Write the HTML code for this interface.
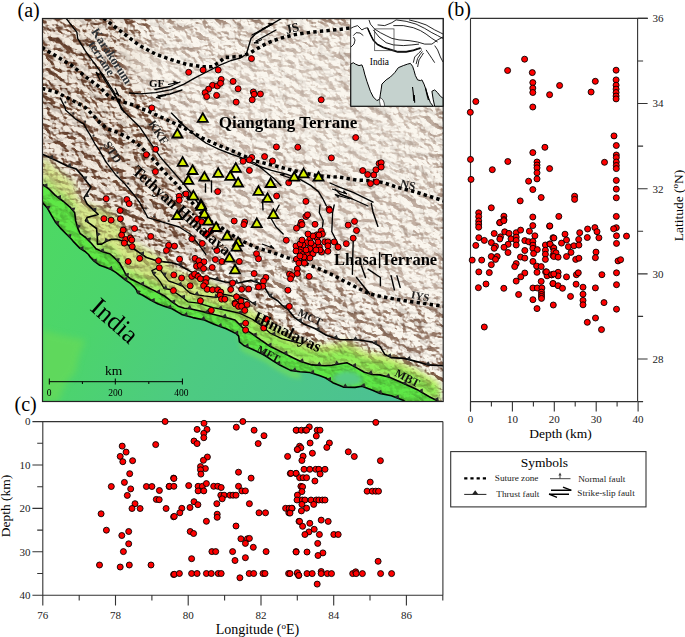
<!DOCTYPE html>
<html><head><meta charset="utf-8"><style>html,body{margin:0;padding:0;background:#fff;overflow:hidden}svg{display:block}</style></head><body>
<svg width="685" height="637" viewBox="0 0 685 637" font-family="Liberation Serif, serif">
<defs>
<clipPath id="mapclip"><rect x="42.5" y="18.5" width="400.7" height="383"/></clipPath>
<linearGradient id="gplain" x1="42" y1="200" x2="404" y2="402" gradientUnits="userSpaceOnUse">
 <stop offset="0" stop-color="#4dd962"/><stop offset="0.25" stop-color="#4cd46c"/><stop offset="0.5" stop-color="#4dcb80"/><stop offset="1" stop-color="#4cc094"/>
</linearGradient>
<linearGradient id="gband" x1="42" y1="0" x2="443" y2="0" gradientUnits="userSpaceOnUse">
 <stop offset="0" stop-color="#d8e690"/><stop offset="0.35" stop-color="#d4ea84"/><stop offset="0.6" stop-color="#ccee76"/><stop offset="1" stop-color="#caee72"/>
</linearGradient>
<linearGradient id="glesser" x1="42" y1="0" x2="443" y2="0" gradientUnits="userSpaceOnUse">
 <stop offset="0" stop-color="#dcee8c"/><stop offset="0.5" stop-color="#e6eca8"/><stop offset="1" stop-color="#efeccc"/>
</linearGradient>
<filter id="hs" x="0" y="0" width="1" height="1" filterUnits="objectBoundingBox" color-interpolation-filters="sRGB">
 <feTurbulence type="turbulence" baseFrequency="0.05 0.07" numOctaves="4" seed="11" result="n"/>
 <feDiffuseLighting in="n" surfaceScale="6" diffuseConstant="1.0" lighting-color="#fff" result="L"><feDistantLight azimuth="315" elevation="50"/></feDiffuseLighting>
 <feComponentTransfer in="L" result="L2"><feFuncR type="linear" slope="1.35"/></feComponentTransfer>
 <feColorMatrix in="L2" type="matrix" values="0.62 0 0 0 0.38  0.7 0 0 0 0.3  0.74 0 0 0 0.26  0 0 0 0 1"/>
</filter>
<filter id="hsf" x="0" y="0" width="1" height="1" filterUnits="objectBoundingBox" color-interpolation-filters="sRGB">
 <feTurbulence type="fractalNoise" baseFrequency="0.1 0.14" numOctaves="4" seed="5" result="n"/>
 <feDiffuseLighting in="n" surfaceScale="8" diffuseConstant="1.0" lighting-color="#fff" result="L"><feDistantLight azimuth="315" elevation="45"/></feDiffuseLighting>
 <feComponentTransfer in="L" result="L2"><feFuncR type="linear" slope="1.5" intercept="0"/></feComponentTransfer>
 <feColorMatrix in="L2" type="matrix" values="0.54 0 0 0 0.46  0.69 0 0 0 0.31  0.77 0 0 0 0.23  0 0 0 0 1"/>
</filter>
<filter id="blur3" x="-0.2" y="-0.2" width="1.4" height="1.4"><feGaussianBlur stdDeviation="3"/></filter>
<filter id="blur6" x="-0.2" y="-0.2" width="1.4" height="1.4"><feGaussianBlur stdDeviation="6"/></filter>
<filter id="blur2" x="-0.2" y="-0.2" width="1.4" height="1.4"><feGaussianBlur stdDeviation="2"/></filter>
<filter id="blur10" x="-0.3" y="-0.3" width="1.6" height="1.6"><feGaussianBlur stdDeviation="10"/></filter>
<mask id="cmask" maskUnits="userSpaceOnUse" x="0" y="0" width="685" height="637">
 <rect x="0" y="0" width="685" height="637" fill="#282828"/>
 <g filter="url(#blur10)"><polygon points="30.0,10.0 112.0,10.0 42.0,47.5 55.7,55.8 71.4,65.2 87.1,77.8 99.7,87.2 109.1,96.6 120.0,101.0 134.2,105.3 140.0,108.4 147.8,110.8 175.0,125.0 200.0,170.0 215.0,215.0 240.0,250.0 300.0,275.0 360.0,300.0 444.0,310.0 444.0,402.0 30.0,402.0" fill="#404040"/><path d="M30,10 L100,10 L125,60 L120,110 L150,150 L120,170 L30,150Z" fill="#505050"/></g>
</mask>
<mask id="hsmask" maskUnits="userSpaceOnUse" x="0" y="0" width="685" height="637">
 <rect x="0" y="0" width="685" height="637" fill="#fff"/>
 <g filter="url(#blur6)"><polygon points="155.7,114.7 171.4,121.8 187.1,129.6 202.8,138.3 218.5,145.3 234.2,151.6 240.0,154.3 255.7,161.0 271.4,164.9 287.1,168.9 302.8,172.8 318.5,175.9 340.0,177.3 356.5,180.0 373.0,180.8 382.9,182.5 397.7,187.4 414.2,191.5 427.4,195.7 440.5,199.8 444.0,201.0 444.0,201.0 444.0,18.0 150.0,18.0" fill="#6a6a6a"/><polygon points="150.0,18.0 155.7,54.2 171.4,59.7 187.1,64.5 202.8,66.8 212.2,66.8 219.3,62.1 224.8,57.4 240.0,56.6 249.4,53.5 255.7,49.5 266.7,43.3 279.2,38.5 295.0,34.6 310.6,32.3 326.3,30.7 340.0,29.4 350.5,28.0 444.0,28.0 444.0,18.0" fill="#777"/><path d="M230,60 L330,45 L350,106 L420,120 L420,172 L340,168 L270,142 L230,110Z" fill="#505050"/><path d="M125,35 L200,62 L245,56 L250,62 L235,72 L200,88 L150,94 L125,70Z" fill="#505050"/><polygon points="171.4,121.8 187.1,129.6 202.8,138.3 218.5,145.3 234.2,151.6 240.0,154.3 255.7,161.0 271.4,164.9 287.1,168.9 302.8,172.8 318.5,175.9 340.0,177.3 356.5,180.0 373.0,180.8 382.9,182.5 397.7,187.4 414.2,191.5 427.4,195.7 440.5,199.8 444.0,201.0 444.0,306.2 438.9,305.6 419.1,302.8 402.6,300.4 386.2,297.5 369.7,294.0 353.2,285.7 340.0,279.0 334.2,275.6 318.5,268.6 302.8,262.3 287.1,257.6 271.4,252.1 255.7,247.4 240.0,240.0 234.2,236.4 221.6,227.8 212.2,222.3 206.0,218.0 200.0,212.0 193.4,204.2 185.5,194.8 176.1,183.8 165.1,172.8" fill="#6a6a6a"/><polygon points="200.0,212.0 206.0,218.0 212.2,222.3 221.6,227.8 234.2,236.4 240.0,240.0 255.7,247.4 271.4,252.1 287.1,257.6 302.8,262.3 318.5,268.6 334.2,275.6 340.0,279.0 353.2,285.7 369.7,294.0 386.2,297.5 402.6,300.4 419.1,302.8 438.9,305.6 444.0,306.2 444.0,304.2 444.0,370.0 443.5,365.7 428.0,364.9 416.9,361.6 404.0,358.4 391.2,357.6 384.8,354.4 380.0,346.4 372.0,342.0 359.2,340.0 340.0,339.5 336.1,338.4 326.5,335.2 315.3,328.8 304.0,324.0 294.4,317.6 288.0,309.6 281.6,304.8 277.7,300.8 269.8,296.0 265.1,288.2 260.4,283.5 251.0,280.4 238.0,283.0 225.0,282.0 210.0,278.0 200.5,276.5" fill="#bbb"/></g><polygon points="42.0,156.0 48.2,160.3 55.3,167.4 63.5,173.5 70.6,179.5 74.7,182.9 75.7,190.6 77.8,197.0 80.0,201.3 85.6,203.1 91.3,204.6 96.0,206.7 102.6,207.2 110.1,210.8 114.8,215.8 119.5,221.4 123.3,228.6 126.1,234.8 130.8,239.4 136.5,243.2 140.8,246.0 148.3,250.3 155.8,254.5 165.0,260.0 172.0,265.9 178.2,270.7 184.3,273.3 190.0,274.1 200.0,277.0 212.0,282.4 224.0,287.8 235.0,293.0 242.3,301.5 251.1,308.2 261.3,316.5 270.0,323.3 281.8,330.3 293.4,337.3 300.8,341.5 312.0,344.4 324.9,344.7 331.7,343.9 346.9,340.9 355.0,345.0 364.4,350.5 372.6,353.0 380.0,353.5 389.5,356.1 403.7,362.6 418.0,369.5 429.3,376.4 436.9,380.3 439.0,382.4 439.0,402.5 436.9,400.5 429.3,396.7 418.0,390.1 403.7,383.5 389.5,377.3 380.0,374.9 372.6,374.5 364.4,372.2 355.0,366.9 346.9,362.8 331.7,365.2 324.9,365.7 312.0,364.9 300.8,361.5 293.4,358.0 281.8,352.1 270.0,346.3 261.3,340.4 251.1,333.1 242.3,327.3 235.0,320.0 224.0,317.0 212.0,314.0 200.0,311.0 190.0,308.8 184.3,308.3 178.2,306.2 172.0,301.8 165.0,296.3 155.8,291.4 148.3,287.7 140.8,283.9 136.5,281.8 130.8,279.0 126.1,275.2 123.3,269.5 119.5,263.0 114.8,258.2 110.1,254.0 102.6,251.7 96.0,248.8 91.3,243.2 85.6,237.5 80.0,233.3 77.8,228.1 75.7,220.9 74.7,212.8 70.6,207.7 63.5,201.5 55.3,195.4 48.2,188.3 42.0,184.0" fill="#666" filter="url(#blur3)"/><polygon points="42.0,178.0 48.2,182.2 55.3,189.2 63.5,195.1 70.6,201.2 74.7,206.2 75.7,214.3 77.8,221.4 80.0,226.6 85.6,230.7 91.3,236.3 96.0,241.8 102.6,244.6 110.1,246.7 114.8,250.9 119.5,255.6 123.3,262.0 126.1,267.6 130.8,271.4 136.5,274.1 140.8,276.1 148.3,279.7 155.8,283.2 165.0,287.7 172.0,292.9 178.2,297.1 184.3,298.9 190.0,299.2 200.0,301.0 212.0,303.5 224.0,306.0 235.0,308.6 242.3,315.6 251.1,321.1 261.3,327.9 270.0,333.5 281.8,338.8 293.4,344.3 300.8,347.5 312.0,350.9 324.9,351.7 331.7,351.2 346.9,348.8 355.0,352.9 364.4,358.2 372.6,360.5 380.0,360.9 389.5,363.3 403.7,369.5 418.0,376.1 429.3,382.7 436.9,386.5 439.0,388.5 439.0,402.5 436.9,400.5 429.3,396.7 418.0,390.1 403.7,383.5 389.5,377.3 380.0,374.9 372.6,374.5 364.4,372.2 355.0,366.9 346.9,362.8 331.7,365.2 324.9,365.7 312.0,364.9 300.8,361.5 293.4,358.0 281.8,352.1 270.0,346.3 261.3,340.4 251.1,333.1 242.3,327.3 235.0,320.0 224.0,317.0 212.0,314.0 200.0,311.0 190.0,308.8 184.3,308.3 178.2,306.2 172.0,301.8 165.0,296.3 155.8,291.4 148.3,287.7 140.8,283.9 136.5,281.8 130.8,279.0 126.1,275.2 123.3,269.5 119.5,263.0 114.8,258.2 110.1,254.0 102.6,251.7 96.0,248.8 91.3,243.2 85.6,237.5 80.0,233.3 77.8,228.1 75.7,220.9 74.7,212.8 70.6,207.7 63.5,201.5 55.3,195.4 48.2,188.3 42.0,184.0" fill="#444" filter="url(#blur2)"/><polygon points="42.0,184.0 48.2,188.3 55.3,195.4 63.5,201.5 70.6,207.7 74.7,212.8 75.7,220.9 77.8,228.1 80.0,233.3 85.6,237.5 91.3,243.2 96.0,248.8 102.6,251.7 110.1,254.0 114.8,258.2 119.5,263.0 123.3,269.5 126.1,275.2 130.8,279.0 136.5,281.8 140.8,283.9 148.3,287.7 155.8,291.4 165.0,296.3 172.0,301.8 178.2,306.2 184.3,308.3 190.0,308.8 200.0,311.0 212.0,314.0 224.0,317.0 235.0,320.0 242.3,327.3 251.1,333.1 261.3,340.4 270.0,346.3 281.8,352.1 293.4,358.0 300.8,361.5 312.0,364.9 324.9,365.7 331.7,365.2 346.9,362.8 355.0,366.9 364.4,372.2 372.6,374.5 380.0,374.9 389.5,377.3 403.7,383.5 418.0,390.1 429.3,396.7 436.9,400.5 439.0,402.5 406.0,402.5 403.7,400.5 391.4,395.8 380.0,393.4 372.6,390.3 362.0,386.2 355.0,387.4 343.4,387.1 332.8,382.7 325.8,378.0 320.0,375.7 310.0,372.5 300.0,371.8 290.5,370.4 280.3,365.3 273.0,360.9 264.2,355.0 255.5,350.7 243.8,345.5 239.4,341.9 238.7,336.1 236.5,333.9 226.3,328.8 214.6,324.4 204.4,320.0 192.8,317.6 181.6,314.4 172.0,308.8 165.0,306.5 157.7,303.7 150.2,299.9 142.7,295.2 137.5,292.8 136.5,290.0 134.6,287.4 130.8,283.7 125.2,279.9 120.5,276.1 115.8,272.4 111.1,269.5 105.4,267.2 99.8,265.3 94.1,261.1 90.4,257.3 88.5,254.5 84.7,251.2 80.0,248.4 73.0,241.1 70.6,238.3 66.5,234.2 60.4,228.1 55.3,221.9 51.2,214.8 47.1,207.7 42.0,202.0" fill="#2a2a2a" filter="url(#blur2)"/>
</mask>
<filter id="relief" x="0" y="0" width="1" height="1" filterUnits="objectBoundingBox">
 <feTurbulence type="fractalNoise" baseFrequency="0.11 0.16" numOctaves="3" seed="7" result="n"/>
 <feColorMatrix in="n" type="matrix" values="0 0 0 0 0.55  0 0 0 0 0.33  0 0 0 0 0.22  -3.2 0 0 0 1.75" result="c"/>
 <feComposite in="c" in2="SourceGraphic" operator="in"/>
</filter>
</defs>
<rect width="685" height="637" fill="#fff"/>
<g clip-path="url(#mapclip)">
<rect x="42" y="18" width="402" height="384" fill="#faf6ee"/>
<path d="M30,10 L115,10 L150,60 L135,110 L180,150 L210,200 L240,260 L120,250 L30,200Z" fill="#f2eadf" filter="url(#blur10)"/>
<polygon points="42.0,156.0 48.2,160.3 55.3,167.4 63.5,173.5 70.6,179.5 74.7,182.9 75.7,190.6 77.8,197.0 80.0,201.3 85.6,203.1 91.3,204.6 96.0,206.7 102.6,207.2 110.1,210.8 114.8,215.8 119.5,221.4 123.3,228.6 126.1,234.8 130.8,239.4 136.5,243.2 140.8,246.0 148.3,250.3 155.8,254.5 165.0,260.0 172.0,265.9 178.2,270.7 184.3,273.3 190.0,274.1 200.0,277.0 212.0,282.4 224.0,287.8 235.0,293.0 242.3,301.5 251.1,308.2 261.3,316.5 270.0,323.3 281.8,330.3 293.4,337.3 300.8,341.5 312.0,344.4 324.9,344.7 331.7,343.9 346.9,340.9 355.0,345.0 364.4,350.5 372.6,353.0 380.0,353.5 389.5,356.1 403.7,362.6 418.0,369.5 429.3,376.4 436.9,380.3 439.0,382.4 439.0,402.5 436.9,400.5 429.3,396.7 418.0,390.1 403.7,383.5 389.5,377.3 380.0,374.9 372.6,374.5 364.4,372.2 355.0,366.9 346.9,362.8 331.7,365.2 324.9,365.7 312.0,364.9 300.8,361.5 293.4,358.0 281.8,352.1 270.0,346.3 261.3,340.4 251.1,333.1 242.3,327.3 235.0,320.0 224.0,317.0 212.0,314.0 200.0,311.0 190.0,308.8 184.3,308.3 178.2,306.2 172.0,301.8 165.0,296.3 155.8,291.4 148.3,287.7 140.8,283.9 136.5,281.8 130.8,279.0 126.1,275.2 123.3,269.5 119.5,263.0 114.8,258.2 110.1,254.0 102.6,251.7 96.0,248.8 91.3,243.2 85.6,237.5 80.0,233.3 77.8,228.1 75.7,220.9 74.7,212.8 70.6,207.7 63.5,201.5 55.3,195.4 48.2,188.3 42.0,184.0" fill="url(#gband)" filter="url(#blur3)"/>
<polygon points="42.0,178.0 48.2,182.2 55.3,189.2 63.5,195.1 70.6,201.2 74.7,206.2 75.7,214.3 77.8,221.4 80.0,226.6 85.6,230.7 91.3,236.3 96.0,241.8 102.6,244.6 110.1,246.7 114.8,250.9 119.5,255.6 123.3,262.0 126.1,267.6 130.8,271.4 136.5,274.1 140.8,276.1 148.3,279.7 155.8,283.2 165.0,287.7 172.0,292.9 178.2,297.1 184.3,298.9 190.0,299.2 200.0,301.0 212.0,303.5 224.0,306.0 235.0,308.6 242.3,315.6 251.1,321.1 261.3,327.9 270.0,333.5 281.8,338.8 293.4,344.3 300.8,347.5 312.0,350.9 324.9,351.7 331.7,351.2 346.9,348.8 355.0,352.9 364.4,358.2 372.6,360.5 380.0,360.9 389.5,363.3 403.7,369.5 418.0,376.1 429.3,382.7 436.9,386.5 439.0,388.5 439.0,402.5 436.9,400.5 429.3,396.7 418.0,390.1 403.7,383.5 389.5,377.3 380.0,374.9 372.6,374.5 364.4,372.2 355.0,366.9 346.9,362.8 331.7,365.2 324.9,365.7 312.0,364.9 300.8,361.5 293.4,358.0 281.8,352.1 270.0,346.3 261.3,340.4 251.1,333.1 242.3,327.3 235.0,320.0 224.0,317.0 212.0,314.0 200.0,311.0 190.0,308.8 184.3,308.3 178.2,306.2 172.0,301.8 165.0,296.3 155.8,291.4 148.3,287.7 140.8,283.9 136.5,281.8 130.8,279.0 126.1,275.2 123.3,269.5 119.5,263.0 114.8,258.2 110.1,254.0 102.6,251.7 96.0,248.8 91.3,243.2 85.6,237.5 80.0,233.3 77.8,228.1 75.7,220.9 74.7,212.8 70.6,207.7 63.5,201.5 55.3,195.4 48.2,188.3 42.0,184.0" fill="#90ee56" filter="url(#blur3)"/>
<polygon points="42.0,184.0 48.2,188.3 55.3,195.4 63.5,201.5 70.6,207.7 74.7,212.8 75.7,220.9 77.8,228.1 80.0,233.3 85.6,237.5 91.3,243.2 96.0,248.8 102.6,251.7 110.1,254.0 114.8,258.2 119.5,263.0 123.3,269.5 126.1,275.2 130.8,279.0 136.5,281.8 140.8,283.9 148.3,287.7 155.8,291.4 165.0,296.3 172.0,301.8 178.2,306.2 184.3,308.3 190.0,308.8 200.0,311.0 212.0,314.0 224.0,317.0 235.0,320.0 242.3,327.3 251.1,333.1 261.3,340.4 270.0,346.3 281.8,352.1 293.4,358.0 300.8,361.5 312.0,364.9 324.9,365.7 331.7,365.2 346.9,362.8 355.0,366.9 364.4,372.2 372.6,374.5 380.0,374.9 389.5,377.3 403.7,383.5 418.0,390.1 429.3,396.7 436.9,400.5 439.0,402.5 406.0,402.5 403.7,400.5 391.4,395.8 380.0,393.4 372.6,390.3 362.0,386.2 355.0,387.4 343.4,387.1 332.8,382.7 325.8,378.0 320.0,375.7 310.0,372.5 300.0,371.8 290.5,370.4 280.3,365.3 273.0,360.9 264.2,355.0 255.5,350.7 243.8,345.5 239.4,341.9 238.7,336.1 236.5,333.9 226.3,328.8 214.6,324.4 204.4,320.0 192.8,317.6 181.6,314.4 172.0,308.8 165.0,306.5 157.7,303.7 150.2,299.9 142.7,295.2 137.5,292.8 136.5,290.0 134.6,287.4 130.8,283.7 125.2,279.9 120.5,276.1 115.8,272.4 111.1,269.5 105.4,267.2 99.8,265.3 94.1,261.1 90.4,257.3 88.5,254.5 84.7,251.2 80.0,248.4 73.0,241.1 70.6,238.3 66.5,234.2 60.4,228.1 55.3,221.9 51.2,214.8 47.1,207.7 42.0,202.0" fill="#5ee846"/>
<g mask="url(#cmask)" style="mix-blend-mode:multiply"><rect x="42" y="18" width="402" height="384" filter="url(#hs)"/></g>
<g mask="url(#hsmask)" style="mix-blend-mode:multiply"><rect x="42" y="18" width="402" height="384" filter="url(#hsf)"/></g>
<polygon points="42.0,202.0 47.1,207.7 51.2,214.8 55.3,221.9 60.4,228.1 66.5,234.2 70.6,238.3 73.0,241.1 80.0,248.4 84.7,251.2 88.5,254.5 90.4,257.3 94.1,261.1 99.8,265.3 105.4,267.2 111.1,269.5 115.8,272.4 120.5,276.1 125.2,279.9 130.8,283.7 134.6,287.4 136.5,290.0 137.5,292.8 142.7,295.2 150.2,299.9 157.7,303.7 165.0,306.5 172.0,308.8 181.6,314.4 192.8,317.6 204.4,320.0 214.6,324.4 226.3,328.8 236.5,333.9 238.7,336.1 239.4,341.9 243.8,345.5 255.5,350.7 264.2,355.0 273.0,360.9 280.3,365.3 290.5,370.4 300.0,371.8 310.0,372.5 320.0,375.7 325.8,378.0 332.8,382.7 343.4,387.1 355.0,387.4 362.0,386.2 372.6,390.3 380.0,393.4 391.4,395.8 403.7,400.5 406.0,402.5 404.0,402.0 42.0,402.0" fill="url(#gplain)"/>
<polygon points="333,376 345,371 355,372.5 362,377.5 361,384 350,386 340,385.5 334,381.5" fill="#56cc84" filter="url(#blur2)"/>
<polygon points="42,330 60,335 85.2,340 78.8,356 75.6,372 66,383 58,402 42,402" fill="#66da58" opacity="0.75" filter="url(#blur3)"/>
<polygon points="236.5,333.9 238.7,336.1 239.4,341.9 243.8,345.5 255.5,350.7 264.2,355.0 273.0,360.9 280.3,365.3 290.5,370.4 300.0,371.8 301.0,378.8 291.5,377.4 281.3,372.3 274.0,367.9 265.2,362.0 256.5,357.7 244.8,352.5 240.4,348.9 239.7,343.1 237.5,340.9" fill="#6cdc62" opacity="0.85" filter="url(#blur2)"/>
<g fill="none" stroke="#000" stroke-linejoin="round" stroke-linecap="round">
<path d="M42.0,202.0 L47.1,207.7 L51.2,214.8 L55.3,221.9 L60.4,228.1 L66.5,234.2 L70.6,238.3 L73.0,241.1 L80.0,248.4 L84.7,251.2 L88.5,254.5 L90.4,257.3 L94.1,261.1 L99.8,265.3 L105.4,267.2 L111.1,269.5 L115.8,272.4 L120.5,276.1 L125.2,279.9 L130.8,283.7 L134.6,287.4 L136.5,290.0 L137.5,292.8 L142.7,295.2 L150.2,299.9 L157.7,303.7 L165.0,306.5 L172.0,308.8 L181.6,314.4 L192.8,317.6 L204.4,320.0 L214.6,324.4 L226.3,328.8 L236.5,333.9 L238.7,336.1 L239.4,341.9 L243.8,345.5 L255.5,350.7 L264.2,355.0 L273.0,360.9 L280.3,365.3 L290.5,370.4 L300.0,371.8 L310.0,372.5 L320.0,375.7 L325.8,378.0 L332.8,382.7 L343.4,387.1 L355.0,387.4 L362.0,386.2 L372.6,390.3 L380.0,393.4 L391.4,395.8 L403.7,400.5 L406.0,402.5" stroke-width="1.6"/>
<path d="M42.0,184.0 L48.2,188.3 L55.3,195.4 L63.5,201.5 L70.6,207.7 L74.7,212.8 L75.7,220.9 L77.8,228.1 L80.0,233.3 L85.6,237.5 L91.3,243.2 L96.0,248.8 L102.6,251.7 L110.1,254.0 L114.8,258.2 L119.5,263.0 L123.3,269.5 L126.1,275.2 L130.8,279.0 L136.5,281.8 L140.8,283.9 L148.3,287.7 L155.8,291.4 L165.0,296.3 L172.0,301.8 L178.2,306.2 L184.3,308.3 L190.0,308.8 L200.0,311.0 L212.0,314.0 L224.0,317.0 L235.0,320.0 L242.3,327.3 L251.1,333.1 L261.3,340.4 L270.0,346.3 L281.8,352.1 L293.4,358.0 L300.8,361.5 L312.0,364.9 L324.9,365.7 L331.7,365.2 L346.9,362.8 L355.0,366.9 L364.4,372.2 L372.6,374.5 L380.0,374.9 L389.5,377.3 L403.7,383.5 L418.0,390.1 L429.3,396.7 L436.9,400.5 L439.0,402.5" stroke-width="1.6"/>
<path d="M42.0,154.0 L55.7,160.2 L66.7,165.7 L76.1,168.9 L82.4,175.9 L87.1,182.2 L91.0,186.9 L87.1,193.2 L84.0,197.9 L87.1,204.2 L95.0,211.3 L98.1,214.4 L87.1,217.6 L85.5,220.7 L90.2,223.8 L96.5,228.5 L97.3,236.4 L97.4,244.1 L101.7,244.1 L106.4,241.3 L111.1,239.4 L117.7,239.4 L123.2,241.1 L131.0,247.4 L134.8,249.5 L146.5,257.5 L158.2,261.2 L171.3,262.6 L178.6,264.8 L190.3,271.4 L200.5,276.5 L210.0,278.0 L225.0,282.0 L238.0,283.0 L251.0,280.4 L260.4,283.5 L265.1,288.2 L269.8,296.0 L277.7,300.8 L281.6,304.8 L288.0,309.6 L294.4,317.6 L304.0,324.0 L315.3,328.8 L326.5,335.2 L336.1,338.4 L340.0,339.5 L359.2,340.0 L372.0,342.0 L380.0,346.4 L384.8,354.4 L391.2,357.6 L404.0,358.4 L416.9,361.6 L428.0,364.9 L443.5,365.7" stroke-width="1.6"/>
<path d="M65.9,18.0 L76.9,32.3 L77.7,38.5 L85.5,51.1 L93.4,62.1 L102.8,74.7 L113.8,91.9 L121.6,109.2 L140.0,127.3 L149.4,141.4 L160.4,157.1 L171.4,169.7 L180.8,180.6 L188.7,190.1 L196.5,201.0 L202.8,210.0" stroke-width="1.35"/>
<path d="M100.0,72.0 L106.0,82.0 L112.0,91.0 L118.0,101.0 L124.0,112.0" stroke-width="1.35"/>
<path d="M60.4,98.2 L65.1,107.6 L65.5,110.0 L76.1,119.4 L84.0,124.1 L85.5,127.3 L90.2,135.1 L94.9,143.8 L99.7,150.8 L105.9,161.8 L115.4,174.4 L124.8,183.8 L132.6,193.2 L140.0,203.0 L147.8,217.6 L163.5,222.3 L179.2,227.0 L190.2,234.0 L199.7,245.8 L205.9,254.5" stroke-width="1.35"/>
<path d="M129.5,93.0 L140.0,93.8 L155.7,92.7 L171.4,89.6 L184.0,84.1 L195.0,77.8 L207.5,71.5 L220.0,65.2 L231.0,60.5 L240.0,58.2 L246.3,54.2 L251.0,38.5 L255.7,33.8 L271.4,24.4 L282.4,18.0" stroke-width="1.35"/>
<path d="M155.0,89.5 L170.0,86.5 L180.0,82.0" stroke-width="1.35"/>
<path d="M158.0,96.0 L170.0,94.0 L182.0,90.0" stroke-width="1.35"/>
<path d="M252.0,35.0 L262.0,29.5 L273.0,24.0" stroke-width="1.35"/>
<path d="M256.0,41.0 L266.0,35.5 L276.0,30.0" stroke-width="1.35"/>
<path d="M171.4,113.1 L184.0,125.7 L195.0,135.1 L205.9,143.0 L218.5,149.2 L231.0,154.0 L240.0,157.1 L255.7,163.4 L265.1,171.2 L274.5,179.1 L280.8,185.4" stroke-width="1.35"/>
<path d="M240.0,158.5 L255.7,165.0 L271.4,170.4 L287.1,174.4 L299.7,179.1 L310.6,185.4 L318.5,191.6 L323.2,199.5 L326.3,205.8" stroke-width="1.35"/>
<path d="M330.0,183.0 L340.0,187.4 L353.2,192.4 L373.0,202.2" stroke-width="1.35"/>
<path d="M335.0,189.0 L340.0,194.0 L352.4,199.0 L368.0,206.0" stroke-width="1.35"/>
<path d="M279.2,205.0 L276.0,211.0 L271.4,219.0 L276.0,227.0 L283.2,234.0" stroke-width="1.35"/>
<path d="M320.0,205.0 L319.3,212.8 L323.2,220.7 L322.5,227.0" stroke-width="1.35"/>
<path d="M334.2,205.0 L332.6,212.8 L331.8,231.7 L335.8,239.5 L338.0,244.2" stroke-width="1.35"/>
<path d="M262.5,200.0 L263.0,210.0" stroke-width="1.35"/>
<path d="M156.3,268.5 L151.9,270.7 L153.6,274.6 L158.0,279.0 L160.6,282.5 L164.2,288.6 L170.3,289.5 L177.3,293.9 L182.5,297.4 L187.8,301.8 L198.4,303.2 L213.0,307.6 L227.6,310.5 L240.0,313.4 L252.8,319.5 L262.0,326.0 L270.0,333.0 L281.7,338.7 L293.4,341.6 L300.4,343.4" stroke-width="1.35"/>
<path d="M156.3,268.5 L160.6,270.3 L165.0,276.4 L168.5,280.8 L175.5,283.4 L182.5,286.0 L186.0,289.5 L190.0,293.0 L194.0,294.4 L204.2,295.9 L215.9,297.3 L224.7,294.4 L232.0,296.0 L240.0,297.0 L248.0,300.0 L255.7,305.0" stroke-width="1.35"/>
<path d="M371.3,203.3 L373.0,212.0 L377.9,226.4" stroke-width="1.4"/>
<path d="M353.2,241.2 L352.8,255.0 L352.4,274.2" stroke-width="1.4"/>
<path d="M379.6,252.7 L379.6,267.6" stroke-width="1.4"/>
<path d="M361.4,265.9 L365.5,277.5" stroke-width="1.4"/>
<path d="M368.0,269.2 L380.4,277.5 L380.4,285.7" stroke-width="1.4"/>
<path d="M391.1,275.8 L394.4,289.8" stroke-width="1.4"/>
<path d="M396.9,275.8 L400.2,287.4" stroke-width="1.4"/>
<path d="M356.5,277.5 L369.7,294.0" stroke-width="1.4"/>
<path d="M205.5,184.0 L205.5,192.0" stroke-width="1.4"/>
<path d="M211.5,181.0 L211.5,192.0" stroke-width="1.4"/>
</g>
<path d="M168.0,84.5L178.0,82.5" stroke="#000" stroke-width="1.1" fill="none"/><path d="M178.0,82.5L173.6,81.1L174.1,83.3Z" fill="#000" stroke="#000" stroke-width="0.6"/>
<path d="M166.0,95.5L156.0,97.5" stroke="#000" stroke-width="1.1" fill="none"/><path d="M156.0,97.5L160.4,98.9L159.9,96.7Z" fill="#000" stroke="#000" stroke-width="0.6"/>
<path d="M262.0,29.0L273.0,23.5" stroke="#000" stroke-width="1.1" fill="none"/><path d="M273.0,23.5L268.4,23.3L269.4,25.3Z" fill="#000" stroke="#000" stroke-width="0.6"/>
<path d="M262.0,39.5L254.0,43.0" stroke="#000" stroke-width="1.1" fill="none"/><path d="M254.0,43.0L258.5,43.4L257.7,41.4Z" fill="#000" stroke="#000" stroke-width="0.6"/>
<path d="M100.0,80.0L96.0,72.0" stroke="#000" stroke-width="1.1" fill="none"/><path d="M96.0,72.0L99.8,74.6L97.8,75.6Z" fill="#000" stroke="#000" stroke-width="0.6"/>
<path d="M115.0,88.0L119.0,96.0" stroke="#000" stroke-width="1.1" fill="none"/><path d="M119.0,96.0L115.2,93.4L117.2,92.4Z" fill="#000" stroke="#000" stroke-width="0.6"/>
<path d="M290.0,178.0L280.0,174.5" stroke="#000" stroke-width="1.1" fill="none"/><path d="M280.0,174.5L284.5,173.7L283.8,175.8Z" fill="#000" stroke="#000" stroke-width="0.6"/>
<path d="M332.0,189.0L347.0,194.0" stroke="#000" stroke-width="1.1" fill="none"/><path d="M347.0,194.0L343.9,190.6L343.2,192.7Z" fill="#000" stroke="#000" stroke-width="0.6"/>
<path d="M350.0,199.0L335.0,194.5" stroke="#000" stroke-width="1.1" fill="none"/><path d="M335.0,194.5L338.2,197.8L338.8,195.6Z" fill="#000" stroke="#000" stroke-width="0.6"/>
<path d="M262.0,244.0L274.0,248.5" stroke="#000" stroke-width="1.1" fill="none"/><path d="M274.0,248.5L271.0,245.0L270.3,247.1Z" fill="#000" stroke="#000" stroke-width="0.6"/>
<path d="M184.0,126.0L178.0,121.0" stroke="#000" stroke-width="1.1" fill="none"/><path d="M178.0,121.0L182.5,121.9L181.1,123.6Z" fill="#000" stroke="#000" stroke-width="0.6"/>
<g fill="#333">
<circle cx="65.4" cy="102.4" r="1.1"/>
<circle cx="73.3" cy="113.4" r="1.1"/>
<circle cx="85.1" cy="121.7" r="1.1"/>
<circle cx="93.5" cy="135.7" r="1.1"/>
<circle cx="101.1" cy="148.2" r="1.1"/>
<circle cx="108.6" cy="161.1" r="1.1"/>
<circle cx="117.4" cy="172.8" r="1.1"/>
<circle cx="128.1" cy="183.7" r="1.1"/>
<circle cx="137.5" cy="195.4" r="1.1"/>
<circle cx="145.8" cy="208.4" r="1.1"/>
<circle cx="154.2" cy="216.8" r="1.1"/>
<circle cx="168.6" cy="221.1" r="1.1"/>
<circle cx="183.3" cy="226.5" r="1.1"/>
<circle cx="195.4" cy="236.4" r="1.1"/>
<circle cx="204.7" cy="248.3" r="1.1"/>
</g>
<g fill="#2a2a2a">
<path d="M46.0,205.8L48.5,210.2L50.5,206.1Z"/><path d="M55.0,221.5L58.1,225.3L59.4,221.0Z"/><path d="M67.1,234.8L70.6,238.3L71.5,233.9Z"/><path d="M79.3,248.0L83.6,250.5L83.4,246.0Z"/><path d="M92.5,259.9L96.5,262.9L96.7,258.4Z"/><path d="M108.2,268.3L112.8,270.2L111.9,265.8Z"/><path d="M123.1,278.2L127.0,281.4L127.4,276.9Z"/><path d="M136.5,290.0L138.2,294.7L140.9,291.1Z"/><path d="M150.6,300.1L155.1,302.4L154.5,297.9Z"/><path d="M167.1,307.2L171.9,308.8L170.7,304.4Z"/><path d="M183.3,314.9L188.1,316.3L186.7,312.0Z"/><path d="M200.8,319.2L205.6,320.3L204.0,316.1Z"/><path d="M217.6,325.5L222.2,327.3L221.2,322.9Z"/><path d="M234.1,332.7L238.5,334.9L238.0,330.4Z"/><path d="M244.4,345.8L248.9,347.8L248.2,343.3Z"/><path d="M260.7,353.3L265.2,355.5L264.6,351.0Z"/><path d="M276.0,362.7L280.3,365.3L280.1,360.8Z"/><path d="M292.1,370.6L297.0,371.4L295.1,367.3Z"/><path d="M310.0,372.5L314.7,374.0L313.5,369.7Z"/><path d="M326.8,378.7L331.0,381.5L331.0,377.0Z"/><path d="M342.7,387.1L347.7,387.2L345.3,383.4Z"/><path d="M360.7,385.7L365.4,387.5L364.4,383.1Z"/><path d="M377.4,392.3L382.1,394.3L381.2,389.8Z"/><path d="M394.7,397.1L399.4,398.9L398.4,394.5Z"/>
<path d="M43.2,184.9L47.3,187.7L47.4,183.2Z"/><path d="M56.8,196.5L60.8,199.5L61.1,195.0Z"/><path d="M70.8,207.9L73.9,211.8L75.3,207.5Z"/><path d="M76.7,224.3L78.1,229.1L81.0,225.7Z"/><path d="M86.6,238.5L90.1,242.0L91.0,237.6Z"/><path d="M99.7,250.4L104.3,252.4L103.5,248.0Z"/><path d="M115.3,258.7L118.8,262.3L119.7,257.9Z"/><path d="M124.6,274.0L128.5,277.1L128.9,272.7Z"/><path d="M139.8,283.4L144.3,285.7L143.8,281.2Z"/><path d="M155.9,291.5L160.3,293.8L159.9,289.3Z"/><path d="M171.0,301.1L175.1,304.0L175.2,299.5Z"/><path d="M187.0,308.5L192.0,309.0L189.9,305.0Z"/><path d="M204.7,312.2L209.5,313.4L208.0,309.1Z"/><path d="M222.1,316.5L227.0,317.8L225.5,313.5Z"/><path d="M238.3,323.3L241.8,326.8L242.7,322.4Z"/><path d="M252.6,334.1L256.6,337.1L256.8,332.5Z"/><path d="M267.3,344.5L271.4,347.3L271.5,342.8Z"/><path d="M283.2,352.8L287.7,355.1L287.1,350.6Z"/><path d="M299.3,361.0L304.0,362.5L302.7,358.2Z"/><path d="M316.7,365.2L321.7,365.5L319.4,361.6Z"/><path d="M334.6,364.7L339.5,364.0L336.5,360.6Z"/><path d="M351.9,365.3L356.3,367.6L355.8,363.1Z"/><path d="M367.9,373.2L372.8,374.5L371.4,370.3Z"/><path d="M385.6,376.3L390.4,377.5L388.9,373.3Z"/><path d="M402.3,382.9L406.8,385.0L406.1,380.5Z"/><path d="M418.6,390.5L422.9,393.0L422.7,388.5Z"/><path d="M434.3,399.2L438.8,401.5L438.2,397.0Z"/>
<path d="M48.8,157.1L53.4,159.2L52.7,154.7Z"/><path d="M66.9,165.8L71.6,167.4L70.4,163.0Z"/><path d="M82.9,176.6L85.9,180.6L87.4,176.3Z"/><path d="M87.4,192.7L84.7,196.9L89.2,196.9Z"/><path d="M92.1,208.7L95.9,212.1L96.5,207.6Z"/><path d="M87.0,217.9L84.7,222.3L89.1,221.8Z"/><path d="M96.8,231.8L97.3,236.8L100.8,233.9Z"/><path d="M104.5,242.1L109.1,240.2L105.4,237.7Z"/><path d="M123.6,241.4L127.5,244.6L127.9,240.1Z"/><path d="M139.9,253.0L144.0,255.8L144.0,251.3Z"/><path d="M157.9,261.2L162.9,261.7L160.8,257.7Z"/><path d="M177.6,264.3L182.0,266.7L181.7,262.2Z"/><path d="M195.2,273.8L199.7,276.1L199.1,271.6Z"/><path d="M214.3,279.1L219.1,280.4L217.7,276.2Z"/><path d="M233.9,282.7L238.9,283.1L236.7,279.1Z"/><path d="M253.5,281.2L258.2,282.8L257.0,278.4Z"/><path d="M268.2,293.4L270.8,297.7L272.7,293.6Z"/><path d="M283.3,306.1L287.3,309.1L287.6,304.6Z"/><path d="M297.6,319.8L301.8,322.5L301.8,318.0Z"/><path d="M315.4,328.8L319.7,331.3L319.4,326.8Z"/><path d="M333.3,337.5L338.1,339.1L336.9,334.7Z"/><path d="M353.0,339.8L358.0,340.0L355.6,336.2Z"/><path d="M372.7,342.4L377.1,344.8L376.7,340.3Z"/><path d="M386.9,355.5L391.4,357.7L390.8,353.2Z"/><path d="M406.3,359.0L411.2,360.2L409.7,355.9Z"/><path d="M425.5,364.8L430.5,365.0L428.2,361.2Z"/>
<path d="M152.1,271.2L154.1,275.8L156.6,272.0Z"/><path d="M162.9,288.4L167.8,289.1L165.9,285.1Z"/><path d="M180.9,296.1L184.8,299.3L185.2,294.8Z"/><path d="M198.8,303.3L203.5,304.8L202.2,300.4Z"/><path d="M218.0,308.6L222.9,309.6L221.2,305.4Z"/><path d="M237.8,312.3L242.3,314.5L241.6,310.0Z"/><path d="M255.5,321.4L259.6,324.3L259.7,319.8Z"/><path d="M271.3,333.6L275.8,335.8L275.2,331.4Z"/><path d="M289.9,340.7L294.7,341.9L293.2,337.7Z"/>
<path d="M162.3,272.6L165.2,276.7L166.8,272.4Z"/><path d="M177.6,284.2L182.3,285.9L181.2,281.5Z"/><path d="M194.3,294.4L199.2,295.2L197.3,291.1Z"/><path d="M214.2,297.9L218.9,296.3L215.4,293.5Z"/><path d="M233.4,296.2L238.4,296.8L236.4,292.8Z"/><path d="M252.0,302.6L256.2,305.3L256.2,300.8Z"/>
</g>
<g fill="none" stroke="#000" stroke-width="3.5" stroke-dasharray="3.4 3.2">
<path d="M103.6,18.0 L115.0,27.0 L127.0,36.0 L139.7,45.6 L155.7,54.2 L171.4,59.7 L187.1,64.5 L202.8,66.8 L212.2,66.8 L219.3,62.1 L224.8,57.4 L240.0,56.6 L249.4,53.5 L255.7,49.5 L266.7,43.3 L279.2,38.5 L295.0,34.6 L310.6,32.3 L326.3,30.7 L340.0,29.4 L350.5,28.0"/>
<path d="M42.0,47.5 L55.7,55.8 L71.4,65.2 L87.1,77.8 L99.7,87.2 L109.1,96.6 L120.0,101.0 L134.2,105.3 L140.0,108.4 L147.8,110.8 L155.7,114.7 L171.4,121.8 L187.1,129.6 L202.8,138.3 L218.5,145.3 L234.2,151.6 L240.0,154.3 L255.7,161.0 L271.4,164.9 L287.1,168.9 L302.8,172.8 L318.5,175.9 L340.0,177.3 L356.5,180.0 L373.0,180.8 L382.9,182.5 L397.7,187.4 L414.2,191.5 L427.4,195.7 L440.5,199.8 L444.0,201.0"/>
<path d="M42.0,88.5 L55.7,91.9 L71.4,99.8 L85.5,107.6 L93.4,115.5 L99.7,122.6 L107.5,128.8 L118.5,132.8 L127.9,137.5 L135.8,143.0 L140.0,146.1 L147.8,154.0 L155.7,161.8 L165.1,172.8 L176.1,183.8 L185.5,194.8 L193.4,204.2 L200.0,212.0 L206.0,218.0 L212.2,222.3 L221.6,227.8 L234.2,236.4 L240.0,240.0 L255.7,247.4 L271.4,252.1 L287.1,257.6 L302.8,262.3 L318.5,268.6 L334.2,275.6 L340.0,279.0 L353.2,285.7 L369.7,294.0 L386.2,297.5 L402.6,300.4 L419.1,302.8 L438.9,305.6 L444.0,306.2"/>
</g>
<g fill="#ff0000" stroke="#000" stroke-width="0.9"><circle cx="188.7" cy="72.3" r="3.0"/><circle cx="203.1" cy="70.0" r="3.0"/><circle cx="218.2" cy="70.0" r="3.0"/><circle cx="221.2" cy="79.4" r="3.0"/><circle cx="233.1" cy="81.4" r="3.0"/><circle cx="212.5" cy="85.3" r="3.0"/><circle cx="217.4" cy="86.0" r="3.0"/><circle cx="220.5" cy="83.3" r="3.0"/><circle cx="208.6" cy="89.1" r="3.0"/><circle cx="205.1" cy="92.7" r="3.0"/><circle cx="206.7" cy="96.6" r="3.0"/><circle cx="216.6" cy="95.4" r="3.0"/><circle cx="238.1" cy="88.8" r="3.0"/><circle cx="236.2" cy="102.1" r="3.0"/><circle cx="151.8" cy="107.9" r="3.0"/><circle cx="251.5" cy="58.6" r="3.0"/><circle cx="253.3" cy="91.9" r="3.0"/><circle cx="254.1" cy="94.3" r="3.0"/><circle cx="260.4" cy="94.0" r="3.0"/><circle cx="252.2" cy="99.8" r="3.0"/><circle cx="321.2" cy="99.8" r="3.0"/><circle cx="155.7" cy="149.2" r="3.0"/><circle cx="146.3" cy="154.7" r="3.0"/><circle cx="155.4" cy="171.7" r="3.0"/><circle cx="186.0" cy="194.0" r="3.0"/><circle cx="179.2" cy="196.3" r="3.0"/><circle cx="179.2" cy="200.3" r="3.0"/><circle cx="217.7" cy="191.6" r="3.0"/><circle cx="276.4" cy="146.9" r="3.0"/><circle cx="297.8" cy="147.2" r="3.0"/><circle cx="331.4" cy="157.9" r="3.0"/><circle cx="264.6" cy="156.6" r="3.0"/><circle cx="251.8" cy="157.4" r="3.0"/><circle cx="249.4" cy="159.9" r="3.0"/><circle cx="243.1" cy="161.3" r="3.0"/><circle cx="272.5" cy="161.0" r="3.0"/><circle cx="249.4" cy="170.4" r="3.0"/><circle cx="288.7" cy="182.7" r="3.0"/><circle cx="276.6" cy="196.0" r="3.0"/><circle cx="305.9" cy="201.4" r="3.0"/><circle cx="329.0" cy="208.9" r="3.0"/><circle cx="355.7" cy="137.6" r="3.0"/><circle cx="379.1" cy="163.5" r="3.0"/><circle cx="381.2" cy="162.7" r="3.0"/><circle cx="381.2" cy="167.1" r="3.0"/><circle cx="375.9" cy="169.8" r="3.0"/><circle cx="362.7" cy="170.6" r="3.0"/><circle cx="367.7" cy="174.6" r="3.0"/><circle cx="373.8" cy="175.0" r="3.0"/><circle cx="376.6" cy="182.0" r="3.0"/><circle cx="370.5" cy="183.6" r="3.0"/><circle cx="106.2" cy="198.7" r="3.0"/><circle cx="126.8" cy="199.5" r="3.0"/><circle cx="129.2" cy="203.7" r="3.0"/><circle cx="120.1" cy="210.5" r="3.0"/><circle cx="103.9" cy="218.7" r="3.0"/><circle cx="111.1" cy="220.2" r="3.0"/><circle cx="120.4" cy="218.8" r="3.0"/><circle cx="123.2" cy="230.1" r="3.0"/><circle cx="134.5" cy="228.5" r="3.0"/><circle cx="121.6" cy="235.1" r="3.0"/><circle cx="125.6" cy="239.5" r="3.0"/><circle cx="130.3" cy="238.0" r="3.0"/><circle cx="131.8" cy="239.9" r="3.0"/><circle cx="124.3" cy="243.1" r="3.0"/><circle cx="132.2" cy="246.6" r="3.0"/><circle cx="128.2" cy="261.5" r="3.0"/><circle cx="139.7" cy="258.4" r="3.0"/><circle cx="150.7" cy="236.4" r="3.0"/><circle cx="168.7" cy="245.3" r="3.0"/><circle cx="174.5" cy="246.1" r="3.0"/><circle cx="166.4" cy="250.5" r="3.0"/><circle cx="158.5" cy="260.7" r="3.0"/><circle cx="159.3" cy="267.8" r="3.0"/><circle cx="179.6" cy="259.2" r="3.0"/><circle cx="191.8" cy="238.8" r="3.0"/><circle cx="197.3" cy="219.1" r="3.0"/><circle cx="201.7" cy="221.8" r="3.0"/><circle cx="202.3" cy="243.5" r="3.0"/><circle cx="211.1" cy="230.6" r="3.0"/><circle cx="206.2" cy="233.7" r="3.0"/><circle cx="234.2" cy="221.0" r="3.0"/><circle cx="216.9" cy="250.5" r="3.0"/><circle cx="195.0" cy="258.4" r="3.0"/><circle cx="198.9" cy="260.7" r="3.0"/><circle cx="204.0" cy="261.8" r="3.0"/><circle cx="196.5" cy="266.2" r="3.0"/><circle cx="200.1" cy="265.4" r="3.0"/><circle cx="203.6" cy="268.6" r="3.0"/><circle cx="212.2" cy="267.5" r="3.0"/><circle cx="215.4" cy="259.6" r="3.0"/><circle cx="221.9" cy="261.5" r="3.0"/><circle cx="239.3" cy="261.5" r="3.0"/><circle cx="173.8" cy="274.9" r="3.0"/><circle cx="181.6" cy="278.0" r="3.0"/><circle cx="191.8" cy="276.4" r="3.0"/><circle cx="194.6" cy="274.1" r="3.0"/><circle cx="198.1" cy="276.4" r="3.0"/><circle cx="200.4" cy="278.8" r="3.0"/><circle cx="206.4" cy="278.5" r="3.0"/><circle cx="205.6" cy="282.7" r="3.0"/><circle cx="203.6" cy="285.8" r="3.0"/><circle cx="207.2" cy="289.3" r="3.0"/><circle cx="212.5" cy="289.8" r="3.0"/><circle cx="217.7" cy="289.8" r="3.0"/><circle cx="220.8" cy="292.1" r="3.0"/><circle cx="220.1" cy="295.3" r="3.0"/><circle cx="221.6" cy="299.2" r="3.0"/><circle cx="224.8" cy="299.2" r="3.0"/><circle cx="190.2" cy="285.8" r="3.0"/><circle cx="173.4" cy="290.6" r="3.0"/><circle cx="200.4" cy="300.8" r="3.0"/><circle cx="232.6" cy="283.0" r="3.0"/><circle cx="230.7" cy="289.5" r="3.0"/><circle cx="236.5" cy="296.8" r="3.0"/><circle cx="235.0" cy="303.1" r="3.0"/><circle cx="244.7" cy="222.0" r="3.0"/><circle cx="243.9" cy="224.6" r="3.0"/><circle cx="305.9" cy="216.5" r="3.0"/><circle cx="307.5" cy="214.9" r="3.0"/><circle cx="301.2" cy="222.3" r="3.0"/><circle cx="300.4" cy="225.1" r="3.0"/><circle cx="302.0" cy="224.6" r="3.0"/><circle cx="296.5" cy="228.2" r="3.0"/><circle cx="315.0" cy="224.3" r="3.0"/><circle cx="329.5" cy="210.2" r="3.0"/><circle cx="286.3" cy="240.3" r="3.0"/><circle cx="256.5" cy="253.7" r="3.0"/><circle cx="258.5" cy="258.8" r="3.0"/><circle cx="321.2" cy="230.9" r="3.0"/><circle cx="322.4" cy="234.0" r="3.0"/><circle cx="316.9" cy="234.8" r="3.0"/><circle cx="316.9" cy="238.0" r="3.0"/><circle cx="309.9" cy="238.8" r="3.0"/><circle cx="306.7" cy="242.7" r="3.0"/><circle cx="313.8" cy="245.8" r="3.0"/><circle cx="319.3" cy="246.6" r="3.0"/><circle cx="324.8" cy="241.9" r="3.0"/><circle cx="327.9" cy="241.9" r="3.0"/><circle cx="334.2" cy="241.9" r="3.0"/><circle cx="338.1" cy="247.1" r="3.0"/><circle cx="327.9" cy="245.8" r="3.0"/><circle cx="327.9" cy="251.3" r="3.0"/><circle cx="321.6" cy="252.1" r="3.0"/><circle cx="309.9" cy="248.6" r="3.0"/><circle cx="301.2" cy="249.0" r="3.0"/><circle cx="299.7" cy="252.1" r="3.0"/><circle cx="302.8" cy="254.5" r="3.0"/><circle cx="307.5" cy="254.5" r="3.0"/><circle cx="313.0" cy="253.7" r="3.0"/><circle cx="296.5" cy="259.2" r="3.0"/><circle cx="304.4" cy="260.0" r="3.0"/><circle cx="298.9" cy="263.1" r="3.0"/><circle cx="304.4" cy="263.1" r="3.0"/><circle cx="297.3" cy="269.0" r="3.0"/><circle cx="289.5" cy="274.1" r="3.0"/><circle cx="291.8" cy="275.6" r="3.0"/><circle cx="290.5" cy="278.8" r="3.0"/><circle cx="297.3" cy="273.6" r="3.0"/><circle cx="309.1" cy="276.4" r="3.0"/><circle cx="303.0" cy="245.0" r="3.0"/><circle cx="306.0" cy="250.0" r="3.0"/><circle cx="311.0" cy="243.0" r="3.0"/><circle cx="318.0" cy="242.0" r="3.0"/><circle cx="296.0" cy="246.0" r="3.0"/><circle cx="300.0" cy="244.0" r="3.0"/><circle cx="320.0" cy="250.0" r="3.0"/><circle cx="316.0" cy="250.0" r="3.0"/><circle cx="304.0" cy="257.0" r="3.0"/><circle cx="300.0" cy="256.0" r="3.0"/><circle cx="310.0" cy="258.0" r="3.0"/><circle cx="302.0" cy="240.0" r="3.0"/><circle cx="313.0" cy="236.0" r="3.0"/><circle cx="319.0" cy="235.0" r="3.0"/><circle cx="308.0" cy="234.0" r="3.0"/><circle cx="296.0" cy="251.0" r="3.0"/><circle cx="254.1" cy="273.6" r="3.0"/><circle cx="265.9" cy="277.5" r="3.0"/><circle cx="263.5" cy="281.1" r="3.0"/><circle cx="262.8" cy="286.3" r="3.0"/><circle cx="258.5" cy="287.0" r="3.0"/><circle cx="248.6" cy="289.0" r="3.0"/><circle cx="241.6" cy="289.3" r="3.0"/><circle cx="241.0" cy="301.2" r="3.0"/><circle cx="247.1" cy="304.5" r="3.0"/><circle cx="287.9" cy="290.2" r="3.0"/><circle cx="354.5" cy="221.4" r="3.0"/><circle cx="348.2" cy="225.1" r="3.0"/><circle cx="356.5" cy="230.5" r="3.0"/><circle cx="353.2" cy="238.2" r="3.0"/><circle cx="346.3" cy="243.7" r="3.0"/><circle cx="211.3" cy="310.4" r="3.0"/><circle cx="235.3" cy="304.0" r="3.0"/><circle cx="238.5" cy="306.4" r="3.0"/><circle cx="241.6" cy="306.4" r="3.0"/><circle cx="244.8" cy="310.4" r="3.0"/><circle cx="245.6" cy="323.2" r="3.0"/><circle cx="245.6" cy="330.1" r="3.0"/><circle cx="266.4" cy="319.2" r="3.0"/><circle cx="263.7" cy="328.0" r="3.0"/><circle cx="289.3" cy="306.4" r="3.0"/></g>
<g fill="#d6ee00" stroke="#000" stroke-width="1.8" stroke-linejoin="miter"><path d="M202.8,113.2L207.8,121.9L197.8,121.9Z"/><path d="M177.4,128.8L182.4,137.5L172.4,137.5Z"/><path d="M182.7,157.1L187.7,165.8L177.7,165.8Z"/><path d="M192.6,165.3L197.6,174.0L187.6,174.0Z"/><path d="M188.4,175.2L193.4,183.9L183.4,183.9Z"/><path d="M204.4,172.0L209.4,180.7L199.4,180.7Z"/><path d="M218.2,168.1L223.2,176.8L213.2,176.8Z"/><path d="M230.3,171.2L235.3,179.9L225.3,179.9Z"/><path d="M235.8,163.1L240.8,171.8L230.8,171.8Z"/><path d="M238.1,177.8L243.1,186.5L233.1,186.5Z"/><path d="M193.4,190.9L198.4,199.6L188.4,199.6Z"/><path d="M200.9,199.5L205.9,208.2L195.9,208.2Z"/><path d="M294.2,172.0L299.2,180.7L289.2,180.7Z"/><path d="M303.6,168.6L308.6,177.3L298.6,177.3Z"/><path d="M318.5,172.0L323.5,180.7L313.5,180.7Z"/><path d="M270.6,178.3L275.6,187.0L265.6,187.0Z"/><path d="M258.5,186.1L263.5,194.8L253.5,194.8Z"/><path d="M267.5,193.2L272.5,201.9L262.5,201.9Z"/><path d="M177.2,210.5L182.2,219.2L172.2,219.2Z"/><path d="M201.2,201.1L206.2,209.8L196.2,209.8Z"/><path d="M204.4,208.9L209.4,217.6L199.4,217.6Z"/><path d="M208.3,216.0L213.3,224.7L203.3,224.7Z"/><path d="M216.1,222.3L221.1,231.0L211.1,231.0Z"/><path d="M227.1,230.9L232.1,239.6L222.1,239.6Z"/><path d="M238.1,237.2L243.1,245.9L233.1,245.9Z"/><path d="M236.5,241.9L241.5,250.6L231.5,250.6Z"/><path d="M229.5,252.9L234.5,261.6L224.5,261.6Z"/><path d="M235.0,264.7L240.0,273.4L230.0,273.4Z"/><path d="M273.4,209.4L278.4,218.1L268.4,218.1Z"/><path d="M256.8,218.4L261.8,227.1L251.8,227.1Z"/></g>
<g font-weight="bold" fill="#000">
<text x="218.8" y="128.3" font-size="17">Qiangtang Terrane</text>
<text x="334" y="264.6" font-size="16.5">Lhasa Terrane</text>
<text transform="translate(252.5,320.5) rotate(26)" font-size="16">Himalayas</text>
<text transform="translate(131,172.5) rotate(41.6)" font-size="16">Tethyan Himalaya</text>
<text x="149" y="87" font-size="11">GF</text>
</g>
<g font-weight="bold" fill="#1e1e1e">
<text transform="translate(286.5,34) rotate(-13)" font-size="13" fill="#111">JS</text>
<text transform="translate(399.5,187) rotate(14)" font-size="12" fill="#222">NS</text>
<text transform="translate(410.5,298) rotate(12)" font-size="11">IYS</text>
<text transform="translate(103,144.5) rotate(57)" font-size="12">STD</text>
<text transform="translate(148,123.5) rotate(57)" font-size="12">KKF</text>
<text transform="translate(297,315) rotate(26)" font-size="11" fill="#111">MCT</text>
<text transform="translate(256,351.5) rotate(28)" font-size="11" fill="#111">MFT</text>
<text transform="translate(394,375.5) rotate(27)" font-size="11.5" fill="#111">MBT</text>
<text transform="translate(91,31.5) rotate(57)" font-size="12.5" fill="#2a3035">Karakorum</text>
<text transform="translate(88,44.5) rotate(57)" font-size="12" fill="#2a3035">terrane</text>
</g>
<text transform="translate(89,309.5) rotate(41.3)" font-size="26">India</text>
<g stroke="#000" stroke-width="1" fill="none"><path d="M49.3,381.7H182.4 M49.3,378.5V384.5 M82.4,381.7V384 M115.3,378.5V384.5 M148.8,381.7V384 M182.4,378.5V384.5"/></g>
<g font-size="9.5" text-anchor="middle"><text x="49" y="396">0</text><text x="115.3" y="396">200</text><text x="181.3" y="396">400</text></g>
<text x="113.7" y="374.5" font-size="13.5" text-anchor="middle">km</text>
</g>
<g>
<rect x="350.7" y="18.7" width="92.6" height="87.6" fill="#fff"/>
<polygon points="350.7,64.1 353.3,62.7 355.4,64.1 359.0,65.6 361.9,64.9 363.3,68.4 364.7,74.1 366.9,81.3 370.4,91.3 373.3,97.0 376.9,100.6 379.7,99.1 380.4,94.1 381.1,89.9 381.9,84.1 386.1,79.9 390.4,77.0 394.7,72.7 398.3,67.7 403.3,65.6 407.6,64.1 410.4,63.4 412.6,66.3 414.0,70.6 415.4,75.6 417.6,79.9 420.4,80.6 421.9,79.9 424.0,84.1 426.1,89.9 428.3,97.0 430.4,102.7 433.3,106.3 350.7,106.3" fill="#c5d2ce" stroke="#000" stroke-width="1.0" stroke-linejoin="round"/>
<polygon points="434.7,106.3 433.3,99.9 431.9,91.3 434.7,89.9 437.6,92.7 440.4,96.3 443.3,98.4 443.3,106.3" fill="#c5d2ce" stroke="#000" stroke-width="1.0" stroke-linejoin="round"/>
<path d="M379.7,97.7 Q384,98.5 384.7,106.3 L380.5,106.3 Q379,101 379.7,97.7Z" fill="#fff" stroke="#000" stroke-width="0.6"/>
<path d="M412.5,87 Q413.5,93 413.8,101 M414.3,95 L414.7,102.7" stroke="#000" stroke-width="1.1" fill="none"/>
<path d="M425.5,88 Q427,95 428.5,100" stroke="#000" stroke-width="1.2" fill="none"/>
<g fill="none" stroke="#000" stroke-width="0.85" stroke-linejoin="round">
<path d="M367.6,27.7 L370.4,34.1 L373.3,39.9 L377.6,44.1 L383.3,47.0 L390.4,49.1 L397.6,51.3 L406.1,51.3 L413.3,49.9 L417.6,48.4 L420.4,47.7 L421.5,49.5"/>
<path d="M369.0,19.9 L370.4,24.1 L374.7,29.1 L380.4,32.7 L386.1,35.6 L391.9,38.4 L399.0,39.9 L409.0,40.6 L417.6,42.0 L424.7,44.1 L431.9,44.1 L437.6,39.9 L443.0,37.0"/>
<path d="M373.3,29.9 L379.0,37.0 L386.1,42.7 L393.3,44.9 L403.3,45.6 L411.9,44.9 L419.0,44.1"/>
<path d="M377.6,24.9 L384.7,25.6 L391.9,22.7 L396.1,19.9"/>
<path d="M393.3,25.6 L403.3,25.6 L413.3,27.7 L420.4,30.6 L426.1,34.1 L431.9,38.4 L437.6,42.0"/>
<path d="M396.1,19.9 L406.1,21.3 L416.1,24.1 L424.7,28.4 L431.9,32.7 L437.6,35.6 L443.0,38.5"/>
<path d="M409.0,19.9 L417.6,22.0 L426.1,24.9 L434.7,29.9 L440.4,32.7 L443.0,34.0"/>
<path d="M413.3,62.7 L414.7,57.0 L419.0,52.7 L421.5,50.5"/>
<path d="M416.1,64.1 L417.6,58.4 L420.4,54.1 L422.5,51.5"/>
<path d="M417.6,67.0 L419.0,59.9 L421.9,55.6 L423.5,53.0"/>
<path d="M426.1,49.9 L429.0,54.1 L431.9,58.4 L434.7,62.7"/>
<path d="M434.7,45.6 L437.6,49.9 L440.4,57.0 L443.0,62.0"/>
<path d="M350.7,28.4 L353.3,27.0 L357.6,25.6 L361.9,29.9 L364.7,28.4 L367.6,27.7"/>
<path d="M353.3,35.6 L356.1,32.7 L360.0,33.0 L363.3,35.6"/>
<path d="M351.0,47.0 L354.0,44.0 L355.0,40.0 L353.5,37.0"/>
</g>
<path d="M367.6,28.2 L370.4,34.6 L373.3,40.4 L377.6,44.6 L383.3,47.6 L390.4,49.8 L397.6,52 L406.1,52 L413.3,50.6 L417.6,49.1 L420.4,48.4" fill="none" stroke="#000" stroke-width="1.3"/>
<rect x="374.7" y="28.9" width="19.3" height="21.8" fill="none" stroke="#333" stroke-width="0.7"/>
<text x="379.4" y="64.9" font-size="9.4" text-anchor="middle">India</text>
<rect x="350.7" y="18.7" width="92.6" height="87.6" fill="none" stroke="#222" stroke-width="0.9"/>
</g>
<rect x="42.5" y="18.5" width="400.7" height="383" fill="none" stroke="#222" stroke-width="1.2"/>
<text x="17.5" y="17" font-size="20">(a)</text>
<text x="447.5" y="15.5" font-size="20">(b)</text>
<text x="14.5" y="411" font-size="20">(c)</text>
<g stroke="#333" stroke-width="1.1" fill="none">
<path d="M470.5,18.4V411.5 M470.5,401.6H637.6 M470.5,18.4H647.8 M637.6,18.4V401.6"/>
<path d="M470.5,401.6V411.6M491.4,401.6V406.6M512.4,401.6V411.6M533.4,401.6V406.6M554.3,401.6V411.6M575.2,401.6V406.6M596.2,401.6V411.6M617.1,401.6V406.6M638.1,401.6V411.6M637.6,401.6H643.1M637.6,359.0H647.6M637.6,316.4H643.1M637.6,273.9H647.6M637.6,231.3H643.1M637.6,188.7H647.6M637.6,146.1H643.1M637.6,103.5H647.6M637.6,61.0H643.1M637.6,18.4H647.6"/>
</g>
<g font-size="11" text-anchor="middle" fill="#222">
<text x="470.5" y="423">0</text>
<text x="512.4" y="423">10</text>
<text x="554.3" y="423">20</text>
<text x="596.2" y="423">30</text>
<text x="638.1" y="423">40</text>
</g>
<g font-size="11" fill="#222">
<text x="652.5" y="362.8">28</text>
<text x="652.5" y="277.7">30</text>
<text x="652.5" y="192.5">32</text>
<text x="652.5" y="107.3">34</text>
<text x="652.5" y="22.2">36</text>
</g>
<text x="560.5" y="438" font-size="13.5" text-anchor="middle">Depth (km)</text>
<text transform="translate(683,205.5) rotate(-90)" font-size="13.5" text-anchor="middle">Latitude (<tspan font-size="9" dy="-5">o</tspan><tspan dy="5">N)</tspan></text>
<g fill="#ff0000" stroke="#000" stroke-width="0.9"><circle cx="524.6" cy="59.2" r="3.0"/><circle cx="507.6" cy="70.5" r="3.0"/><circle cx="532.3" cy="72.6" r="3.0"/><circle cx="532.8" cy="82.6" r="3.0"/><circle cx="532.8" cy="88.1" r="3.0"/><circle cx="532.8" cy="92.5" r="3.0"/><circle cx="532.8" cy="107.0" r="3.0"/><circle cx="549.6" cy="94.7" r="3.0"/><circle cx="559.6" cy="85.5" r="3.0"/><circle cx="595.3" cy="81.3" r="3.0"/><circle cx="591.1" cy="92.0" r="3.0"/><circle cx="616.1" cy="70.2" r="3.0"/><circle cx="616.1" cy="79.9" r="3.0"/><circle cx="616.1" cy="85.2" r="3.0"/><circle cx="616.1" cy="89.1" r="3.0"/><circle cx="616.1" cy="92.5" r="3.0"/><circle cx="616.1" cy="96.0" r="3.0"/><circle cx="616.1" cy="98.9" r="3.0"/><circle cx="475.8" cy="101.5" r="3.0"/><circle cx="470.3" cy="112.3" r="3.0"/><circle cx="614.0" cy="135.9" r="3.0"/><circle cx="616.3" cy="145.5" r="3.0"/><circle cx="616.3" cy="155.0" r="3.0"/><circle cx="616.3" cy="157.6" r="3.0"/><circle cx="616.3" cy="162.0" r="3.0"/><circle cx="616.3" cy="165.5" r="3.0"/><circle cx="616.3" cy="168.6" r="3.0"/><circle cx="616.3" cy="180.4" r="3.0"/><circle cx="616.3" cy="189.1" r="3.0"/><circle cx="616.3" cy="197.8" r="3.0"/><circle cx="616.3" cy="216.4" r="3.0"/><circle cx="616.3" cy="227.7" r="3.0"/><circle cx="604.5" cy="162.3" r="3.0"/><circle cx="544.9" cy="147.3" r="3.0"/><circle cx="532.8" cy="152.6" r="3.0"/><circle cx="537.0" cy="162.0" r="3.0"/><circle cx="537.0" cy="165.0" r="3.0"/><circle cx="537.0" cy="167.8" r="3.0"/><circle cx="537.0" cy="172.8" r="3.0"/><circle cx="537.0" cy="178.9" r="3.0"/><circle cx="549.6" cy="168.6" r="3.0"/><circle cx="507.8" cy="161.5" r="3.0"/><circle cx="492.3" cy="169.7" r="3.0"/><circle cx="470.5" cy="159.4" r="3.0"/><circle cx="471.0" cy="179.4" r="3.0"/><circle cx="528.6" cy="181.2" r="3.0"/><circle cx="532.8" cy="189.6" r="3.0"/><circle cx="541.2" cy="197.5" r="3.0"/><circle cx="520.2" cy="200.9" r="3.0"/><circle cx="574.6" cy="196.2" r="3.0"/><circle cx="574.6" cy="199.4" r="3.0"/><circle cx="491.3" cy="207.8" r="3.0"/><circle cx="478.7" cy="212.8" r="3.0"/><circle cx="478.7" cy="216.7" r="3.0"/><circle cx="478.7" cy="220.9" r="3.0"/><circle cx="478.7" cy="224.1" r="3.0"/><circle cx="478.7" cy="227.2" r="3.0"/><circle cx="503.9" cy="216.2" r="3.0"/><circle cx="503.9" cy="219.6" r="3.0"/><circle cx="499.7" cy="222.7" r="3.0"/><circle cx="532.8" cy="217.0" r="3.0"/><circle cx="532.8" cy="225.6" r="3.0"/><circle cx="558.8" cy="216.4" r="3.0"/><circle cx="549.6" cy="226.2" r="3.0"/><circle cx="499.8" cy="222.6" r="3.0"/><circle cx="503.8" cy="220.7" r="3.0"/><circle cx="549.8" cy="225.9" r="3.0"/><circle cx="494.2" cy="233.5" r="3.0"/><circle cx="504.7" cy="231.8" r="3.0"/><circle cx="509.0" cy="233.4" r="3.0"/><circle cx="516.2" cy="232.7" r="3.0"/><circle cx="520.6" cy="230.1" r="3.0"/><circle cx="529.4" cy="231.2" r="3.0"/><circle cx="534.9" cy="235.8" r="3.0"/><circle cx="553.0" cy="237.7" r="3.0"/><circle cx="478.8" cy="237.7" r="3.0"/><circle cx="484.3" cy="240.4" r="3.0"/><circle cx="500.5" cy="236.8" r="3.0"/><circle cx="499.8" cy="239.0" r="3.0"/><circle cx="511.0" cy="238.8" r="3.0"/><circle cx="516.2" cy="237.1" r="3.0"/><circle cx="516.2" cy="240.4" r="3.0"/><circle cx="516.2" cy="245.0" r="3.0"/><circle cx="491.3" cy="242.6" r="3.0"/><circle cx="495.5" cy="246.3" r="3.0"/><circle cx="494.2" cy="248.3" r="3.0"/><circle cx="475.8" cy="245.4" r="3.0"/><circle cx="508.1" cy="244.3" r="3.0"/><circle cx="504.0" cy="247.3" r="3.0"/><circle cx="508.0" cy="252.5" r="3.0"/><circle cx="524.8" cy="240.6" r="3.0"/><circle cx="528.7" cy="241.7" r="3.0"/><circle cx="532.9" cy="241.4" r="3.0"/><circle cx="532.9" cy="245.2" r="3.0"/><circle cx="532.9" cy="248.3" r="3.0"/><circle cx="537.3" cy="249.6" r="3.0"/><circle cx="533.6" cy="253.5" r="3.0"/><circle cx="524.8" cy="250.5" r="3.0"/><circle cx="545.4" cy="245.0" r="3.0"/><circle cx="545.4" cy="250.2" r="3.0"/><circle cx="545.4" cy="254.2" r="3.0"/><circle cx="545.4" cy="259.4" r="3.0"/><circle cx="549.8" cy="243.9" r="3.0"/><circle cx="553.0" cy="247.6" r="3.0"/><circle cx="553.0" cy="255.5" r="3.0"/><circle cx="472.2" cy="260.1" r="3.0"/><circle cx="481.7" cy="260.1" r="3.0"/><circle cx="491.3" cy="256.5" r="3.0"/><circle cx="497.2" cy="256.5" r="3.0"/><circle cx="495.5" cy="259.4" r="3.0"/><circle cx="491.3" cy="264.7" r="3.0"/><circle cx="520.5" cy="257.0" r="3.0"/><circle cx="524.8" cy="258.1" r="3.0"/><circle cx="516.2" cy="263.6" r="3.0"/><circle cx="514.7" cy="266.6" r="3.0"/><circle cx="532.9" cy="261.4" r="3.0"/><circle cx="536.6" cy="266.0" r="3.0"/><circle cx="541.2" cy="266.6" r="3.0"/><circle cx="478.8" cy="271.9" r="3.0"/><circle cx="489.3" cy="272.6" r="3.0"/><circle cx="524.8" cy="273.0" r="3.0"/><circle cx="520.8" cy="276.8" r="3.0"/><circle cx="516.2" cy="281.1" r="3.0"/><circle cx="537.0" cy="272.3" r="3.0"/><circle cx="545.6" cy="271.9" r="3.0"/><circle cx="547.1" cy="275.8" r="3.0"/><circle cx="551.7" cy="274.9" r="3.0"/><circle cx="541.2" cy="281.4" r="3.0"/><circle cx="553.0" cy="283.7" r="3.0"/><circle cx="486.0" cy="284.0" r="3.0"/><circle cx="478.4" cy="287.7" r="3.0"/><circle cx="503.8" cy="288.3" r="3.0"/><circle cx="532.9" cy="288.0" r="3.0"/><circle cx="537.3" cy="288.0" r="3.0"/><circle cx="541.9" cy="288.0" r="3.0"/><circle cx="565.0" cy="234.2" r="3.0"/><circle cx="579.7" cy="232.7" r="3.0"/><circle cx="587.6" cy="229.0" r="3.0"/><circle cx="594.9" cy="227.6" r="3.0"/><circle cx="597.0" cy="231.7" r="3.0"/><circle cx="613.6" cy="228.8" r="3.0"/><circle cx="616.5" cy="235.8" r="3.0"/><circle cx="616.5" cy="243.4" r="3.0"/><circle cx="626.5" cy="236.1" r="3.0"/><circle cx="553.9" cy="238.0" r="3.0"/><circle cx="566.5" cy="240.0" r="3.0"/><circle cx="561.5" cy="243.1" r="3.0"/><circle cx="578.7" cy="239.4" r="3.0"/><circle cx="587.3" cy="237.5" r="3.0"/><circle cx="598.9" cy="237.8" r="3.0"/><circle cx="568.4" cy="246.7" r="3.0"/><circle cx="573.9" cy="245.8" r="3.0"/><circle cx="578.9" cy="245.1" r="3.0"/><circle cx="550.1" cy="244.1" r="3.0"/><circle cx="553.8" cy="248.0" r="3.0"/><circle cx="553.8" cy="251.4" r="3.0"/><circle cx="556.0" cy="252.8" r="3.0"/><circle cx="553.8" cy="256.5" r="3.0"/><circle cx="558.1" cy="257.2" r="3.0"/><circle cx="571.0" cy="252.4" r="3.0"/><circle cx="566.5" cy="256.5" r="3.0"/><circle cx="575.7" cy="259.4" r="3.0"/><circle cx="578.9" cy="258.2" r="3.0"/><circle cx="596.0" cy="252.1" r="3.0"/><circle cx="595.4" cy="257.7" r="3.0"/><circle cx="618.0" cy="260.9" r="3.0"/><circle cx="620.6" cy="259.7" r="3.0"/><circle cx="546.5" cy="271.8" r="3.0"/><circle cx="551.6" cy="274.7" r="3.0"/><circle cx="558.1" cy="272.3" r="3.0"/><circle cx="558.1" cy="275.9" r="3.0"/><circle cx="553.8" cy="274.0" r="3.0"/><circle cx="566.5" cy="276.9" r="3.0"/><circle cx="576.4" cy="274.7" r="3.0"/><circle cx="578.3" cy="272.8" r="3.0"/><circle cx="601.9" cy="274.7" r="3.0"/><circle cx="616.5" cy="272.8" r="3.0"/><circle cx="553.0" cy="283.5" r="3.0"/><circle cx="558.1" cy="285.7" r="3.0"/><circle cx="562.5" cy="288.3" r="3.0"/><circle cx="576.1" cy="284.2" r="3.0"/><circle cx="583.0" cy="287.2" r="3.0"/><circle cx="595.4" cy="287.9" r="3.0"/><circle cx="616.5" cy="284.7" r="3.0"/><circle cx="518.6" cy="294.5" r="3.0"/><circle cx="541.5" cy="292.1" r="3.0"/><circle cx="541.5" cy="294.5" r="3.0"/><circle cx="541.5" cy="296.4" r="3.0"/><circle cx="541.5" cy="298.4" r="3.0"/><circle cx="532.9" cy="299.7" r="3.0"/><circle cx="537.0" cy="308.6" r="3.0"/><circle cx="553.3" cy="305.0" r="3.0"/><circle cx="484.3" cy="327.0" r="3.0"/><circle cx="570.5" cy="296.4" r="3.0"/><circle cx="583.0" cy="294.2" r="3.0"/><circle cx="583.0" cy="300.4" r="3.0"/><circle cx="583.0" cy="304.8" r="3.0"/><circle cx="604.0" cy="302.6" r="3.0"/><circle cx="616.5" cy="309.2" r="3.0"/><circle cx="595.5" cy="318.0" r="3.0"/><circle cx="587.3" cy="322.3" r="3.0"/><circle cx="601.5" cy="329.6" r="3.0"/></g>
<g stroke="#333" stroke-width="1.1" fill="none">
<path d="M32.4,421.6H442.9 M42.8,421.6V595.3 M42.8,595.3H442.9 M442.9,421.6V595.3M42.8,595.3V605.5M79.2,595.3V600.5999999999999M115.5,595.3V605.5M151.9,595.3V600.5999999999999M188.2,595.3V605.5M224.6,595.3V600.5999999999999M261.0,595.3V605.5M297.3,595.3V600.5999999999999M333.7,595.3V605.5M370.0,595.3V600.5999999999999M406.4,595.3V605.5M442.8,595.3V600.5999999999999M42.8,421.6H32.4M42.8,443.3H37.199999999999996M42.8,465.0H32.4M42.8,486.7H37.199999999999996M42.8,508.4H32.4M42.8,530.1H37.199999999999996M42.8,551.8H32.4M42.8,573.5H37.199999999999996M42.8,595.2H32.4"/>
</g>
<g font-size="11" text-anchor="middle" fill="#222">
<text x="42.8" y="618.8">76</text>
<text x="115.5" y="618.8">78</text>
<text x="188.2" y="618.8">80</text>
<text x="261.0" y="618.8">82</text>
<text x="333.7" y="618.8">84</text>
<text x="406.4" y="618.8">86</text>
</g>
<g font-size="11" text-anchor="end" fill="#222">
<text x="30.5" y="425.4">0</text>
<text x="30.5" y="468.8">10</text>
<text x="30.5" y="512.2">20</text>
<text x="30.5" y="555.6">30</text>
<text x="30.5" y="599.0">40</text>
</g>
<text x="257.4" y="634.3" font-size="14" text-anchor="middle">Longitude (<tspan font-size="9" dy="-5.5">o</tspan><tspan dy="5.5">E)</tspan></text>
<text transform="translate(9.8,506) rotate(-90)" font-size="13.5" text-anchor="middle">Depth (km)</text>
<g fill="#ff0000" stroke="#000" stroke-width="0.9"><circle cx="165.1" cy="421.5" r="3.0"/><circle cx="122.2" cy="446.1" r="3.0"/><circle cx="155.7" cy="444.6" r="3.0"/><circle cx="126.1" cy="452.1" r="3.0"/><circle cx="120.2" cy="456.4" r="3.0"/><circle cx="122.8" cy="461.7" r="3.0"/><circle cx="132.6" cy="460.7" r="3.0"/><circle cx="129.7" cy="473.7" r="3.0"/><circle cx="124.4" cy="482.4" r="3.0"/><circle cx="111.3" cy="486.5" r="3.0"/><circle cx="130.7" cy="488.9" r="3.0"/><circle cx="127.3" cy="495.4" r="3.0"/><circle cx="146.4" cy="486.5" r="3.0"/><circle cx="151.9" cy="486.5" r="3.0"/><circle cx="159.4" cy="490.5" r="3.0"/><circle cx="169.1" cy="486.5" r="3.0"/><circle cx="173.6" cy="478.1" r="3.0"/><circle cx="156.3" cy="499.4" r="3.0"/><circle cx="159.2" cy="499.7" r="3.0"/><circle cx="135.0" cy="503.7" r="3.0"/><circle cx="132.0" cy="508.5" r="3.0"/><circle cx="140.1" cy="508.5" r="3.0"/><circle cx="166.1" cy="508.5" r="3.0"/><circle cx="101.1" cy="513.8" r="3.0"/><circle cx="173.6" cy="516.8" r="3.0"/><circle cx="106.4" cy="530.2" r="3.0"/><circle cx="128.7" cy="531.5" r="3.0"/><circle cx="121.8" cy="535.5" r="3.0"/><circle cx="128.7" cy="543.8" r="3.0"/><circle cx="123.4" cy="551.6" r="3.0"/><circle cx="99.5" cy="565.0" r="3.0"/><circle cx="120.2" cy="567.0" r="3.0"/><circle cx="129.3" cy="565.0" r="3.0"/><circle cx="151.0" cy="565.0" r="3.0"/><circle cx="173.6" cy="574.5" r="3.0"/><circle cx="204.0" cy="423.3" r="3.0"/><circle cx="242.8" cy="421.5" r="3.0"/><circle cx="197.1" cy="429.4" r="3.0"/><circle cx="207.0" cy="429.4" r="3.0"/><circle cx="203.8" cy="433.3" r="3.0"/><circle cx="203.8" cy="437.7" r="3.0"/><circle cx="194.0" cy="441.0" r="3.0"/><circle cx="197.1" cy="443.6" r="3.0"/><circle cx="236.3" cy="427.2" r="3.0"/><circle cx="254.1" cy="430.2" r="3.0"/><circle cx="264.0" cy="435.7" r="3.0"/><circle cx="258.2" cy="443.6" r="3.0"/><circle cx="296.7" cy="430.2" r="3.0"/><circle cx="297.4" cy="449.5" r="3.0"/><circle cx="287.6" cy="456.4" r="3.0"/><circle cx="207.4" cy="457.0" r="3.0"/><circle cx="203.4" cy="460.3" r="3.0"/><circle cx="200.5" cy="466.6" r="3.0"/><circle cx="205.4" cy="468.6" r="3.0"/><circle cx="200.5" cy="469.8" r="3.0"/><circle cx="200.9" cy="474.1" r="3.0"/><circle cx="238.5" cy="472.2" r="3.0"/><circle cx="251.1" cy="478.1" r="3.0"/><circle cx="290.3" cy="473.5" r="3.0"/><circle cx="296.1" cy="473.5" r="3.0"/><circle cx="173.9" cy="478.5" r="3.0"/><circle cx="169.3" cy="486.3" r="3.0"/><circle cx="173.9" cy="486.3" r="3.0"/><circle cx="188.7" cy="485.6" r="3.0"/><circle cx="198.1" cy="486.3" r="3.0"/><circle cx="202.4" cy="486.3" r="3.0"/><circle cx="206.4" cy="483.6" r="3.0"/><circle cx="198.1" cy="490.9" r="3.0"/><circle cx="203.8" cy="490.9" r="3.0"/><circle cx="213.7" cy="486.3" r="3.0"/><circle cx="217.8" cy="486.3" r="3.0"/><circle cx="221.2" cy="487.5" r="3.0"/><circle cx="238.5" cy="486.3" r="3.0"/><circle cx="241.9" cy="490.9" r="3.0"/><circle cx="245.4" cy="490.9" r="3.0"/><circle cx="220.8" cy="495.2" r="3.0"/><circle cx="224.1" cy="495.2" r="3.0"/><circle cx="222.2" cy="498.8" r="3.0"/><circle cx="230.0" cy="495.2" r="3.0"/><circle cx="233.0" cy="495.2" r="3.0"/><circle cx="236.0" cy="495.2" r="3.0"/><circle cx="194.0" cy="501.7" r="3.0"/><circle cx="197.9" cy="504.7" r="3.0"/><circle cx="216.8" cy="503.7" r="3.0"/><circle cx="249.4" cy="503.7" r="3.0"/><circle cx="190.0" cy="507.5" r="3.0"/><circle cx="181.8" cy="508.3" r="3.0"/><circle cx="179.8" cy="512.8" r="3.0"/><circle cx="174.3" cy="516.4" r="3.0"/><circle cx="217.2" cy="514.2" r="3.0"/><circle cx="217.2" cy="517.3" r="3.0"/><circle cx="206.4" cy="521.3" r="3.0"/><circle cx="259.0" cy="512.8" r="3.0"/><circle cx="265.5" cy="512.8" r="3.0"/><circle cx="285.6" cy="508.3" r="3.0"/><circle cx="289.2" cy="508.3" r="3.0"/><circle cx="292.1" cy="508.3" r="3.0"/><circle cx="288.8" cy="512.8" r="3.0"/><circle cx="299.0" cy="521.3" r="3.0"/><circle cx="236.0" cy="526.0" r="3.0"/><circle cx="190.2" cy="531.5" r="3.0"/><circle cx="193.6" cy="533.5" r="3.0"/><circle cx="240.9" cy="538.8" r="3.0"/><circle cx="247.4" cy="538.8" r="3.0"/><circle cx="249.4" cy="538.4" r="3.0"/><circle cx="245.4" cy="543.4" r="3.0"/><circle cx="253.3" cy="547.3" r="3.0"/><circle cx="266.1" cy="551.6" r="3.0"/><circle cx="211.9" cy="551.6" r="3.0"/><circle cx="215.7" cy="551.6" r="3.0"/><circle cx="232.6" cy="551.6" r="3.0"/><circle cx="296.1" cy="551.6" r="3.0"/><circle cx="191.6" cy="558.7" r="3.0"/><circle cx="235.0" cy="560.5" r="3.0"/><circle cx="245.4" cy="557.7" r="3.0"/><circle cx="174.3" cy="574.3" r="3.0"/><circle cx="179.4" cy="573.5" r="3.0"/><circle cx="191.6" cy="573.5" r="3.0"/><circle cx="197.1" cy="573.5" r="3.0"/><circle cx="206.4" cy="573.5" r="3.0"/><circle cx="211.3" cy="573.5" r="3.0"/><circle cx="218.2" cy="573.5" r="3.0"/><circle cx="221.2" cy="573.5" r="3.0"/><circle cx="239.9" cy="577.8" r="3.0"/><circle cx="249.2" cy="573.5" r="3.0"/><circle cx="253.7" cy="573.5" r="3.0"/><circle cx="263.0" cy="573.5" r="3.0"/><circle cx="265.0" cy="573.5" r="3.0"/><circle cx="288.6" cy="573.5" r="3.0"/><circle cx="297.4" cy="573.5" r="3.0"/><circle cx="298.6" cy="575.5" r="3.0"/><circle cx="375.8" cy="422.4" r="3.0"/><circle cx="309.3" cy="426.9" r="3.0"/><circle cx="296.1" cy="430.2" r="3.0"/><circle cx="301.4" cy="430.2" r="3.0"/><circle cx="305.4" cy="430.2" r="3.0"/><circle cx="306.6" cy="430.2" r="3.0"/><circle cx="317.2" cy="430.2" r="3.0"/><circle cx="320.0" cy="430.2" r="3.0"/><circle cx="316.3" cy="436.0" r="3.0"/><circle cx="310.1" cy="443.0" r="3.0"/><circle cx="329.4" cy="443.0" r="3.0"/><circle cx="326.8" cy="447.4" r="3.0"/><circle cx="299.6" cy="446.2" r="3.0"/><circle cx="300.9" cy="447.8" r="3.0"/><circle cx="297.4" cy="449.5" r="3.0"/><circle cx="312.4" cy="453.2" r="3.0"/><circle cx="303.1" cy="456.2" r="3.0"/><circle cx="301.9" cy="460.5" r="3.0"/><circle cx="348.3" cy="451.8" r="3.0"/><circle cx="354.3" cy="456.5" r="3.0"/><circle cx="380.4" cy="460.7" r="3.0"/><circle cx="304.0" cy="469.3" r="3.0"/><circle cx="309.8" cy="469.3" r="3.0"/><circle cx="315.8" cy="469.3" r="3.0"/><circle cx="318.9" cy="469.3" r="3.0"/><circle cx="325.0" cy="469.3" r="3.0"/><circle cx="320.1" cy="474.0" r="3.0"/><circle cx="290.9" cy="473.3" r="3.0"/><circle cx="296.1" cy="473.3" r="3.0"/><circle cx="299.6" cy="477.7" r="3.0"/><circle cx="303.1" cy="477.7" r="3.0"/><circle cx="306.6" cy="477.7" r="3.0"/><circle cx="314.9" cy="481.0" r="3.0"/><circle cx="300.9" cy="486.3" r="3.0"/><circle cx="302.6" cy="486.8" r="3.0"/><circle cx="301.9" cy="491.6" r="3.0"/><circle cx="297.4" cy="495.1" r="3.0"/><circle cx="297.0" cy="500.0" r="3.0"/><circle cx="302.3" cy="500.0" r="3.0"/><circle cx="304.9" cy="500.0" r="3.0"/><circle cx="311.0" cy="500.0" r="3.0"/><circle cx="316.3" cy="500.0" r="3.0"/><circle cx="318.9" cy="500.0" r="3.0"/><circle cx="322.4" cy="500.0" r="3.0"/><circle cx="325.0" cy="500.0" r="3.0"/><circle cx="370.2" cy="482.1" r="3.0"/><circle cx="367.1" cy="491.2" r="3.0"/><circle cx="372.3" cy="491.2" r="3.0"/><circle cx="375.8" cy="491.2" r="3.0"/><circle cx="378.5" cy="491.2" r="3.0"/><circle cx="301.9" cy="504.4" r="3.0"/><circle cx="313.7" cy="504.4" r="3.0"/><circle cx="291.8" cy="508.2" r="3.0"/><circle cx="306.6" cy="508.2" r="3.0"/><circle cx="301.4" cy="510.9" r="3.0"/><circle cx="290.0" cy="513.1" r="3.0"/><circle cx="299.6" cy="521.4" r="3.0"/><circle cx="302.6" cy="526.3" r="3.0"/><circle cx="309.8" cy="523.3" r="3.0"/><circle cx="321.2" cy="520.1" r="3.0"/><circle cx="328.2" cy="521.4" r="3.0"/><circle cx="314.2" cy="529.3" r="3.0"/><circle cx="308.9" cy="531.9" r="3.0"/><circle cx="304.9" cy="534.5" r="3.0"/><circle cx="319.4" cy="534.5" r="3.0"/><circle cx="333.8" cy="534.5" r="3.0"/><circle cx="338.2" cy="534.5" r="3.0"/><circle cx="317.7" cy="543.4" r="3.0"/><circle cx="296.1" cy="552.0" r="3.0"/><circle cx="307.0" cy="552.0" r="3.0"/><circle cx="322.9" cy="552.9" r="3.0"/><circle cx="318.0" cy="555.5" r="3.0"/><circle cx="378.1" cy="561.3" r="3.0"/><circle cx="290.0" cy="573.6" r="3.0"/><circle cx="297.4" cy="572.7" r="3.0"/><circle cx="298.8" cy="575.3" r="3.0"/><circle cx="307.0" cy="573.6" r="3.0"/><circle cx="312.2" cy="573.6" r="3.0"/><circle cx="321.2" cy="571.5" r="3.0"/><circle cx="321.2" cy="573.6" r="3.0"/><circle cx="327.3" cy="573.6" r="3.0"/><circle cx="331.5" cy="573.6" r="3.0"/><circle cx="352.7" cy="573.6" r="3.0"/><circle cx="355.7" cy="571.8" r="3.0"/><circle cx="356.2" cy="573.6" r="3.0"/><circle cx="362.4" cy="573.6" r="3.0"/><circle cx="380.6" cy="573.6" r="3.0"/><circle cx="391.6" cy="573.6" r="3.0"/><circle cx="317.2" cy="584.1" r="3.0"/></g>
<rect x="450.7" y="451.6" width="195.3" height="55.3" fill="#fff" stroke="#333" stroke-width="1.1"/>
<text x="544.3" y="466.5" font-size="13.5" text-anchor="middle">Symbols</text>
<path d="M464.2,478.4H486.4" stroke="#000" stroke-width="2.4" stroke-dasharray="3.2 3"/>
<path d="M464.2,494.4H486.4" stroke="#222" stroke-width="1"/><path d="M472,494.6L475.2,490.2L478.4,494.6Z" fill="#222"/>
<path d="M550,478.7H570.5 M560,478.7V474.5" stroke="#444" stroke-width="1"/><path d="M558.4,475.5L560,472.5L561.6,475.5Z" fill="#444"/>
<g stroke="#000" stroke-width="1.4" fill="none"><path d="M551,490.3H571 M549,494.2H569"/><path d="M563,487.2L571.5,490.3" /><path d="M557,497.3L549,494.2"/></g>
<path d="M549,492.7H568.5" stroke="#000" stroke-width="0"/>
<g font-size="9.2" fill="#222"><text x="494.8" y="481.2">Suture zone</text><text x="496.3" y="497.3">Thrust fault</text>
<text x="578.2" y="481.6">Normal fault</text><text x="577.3" y="495.8">Strike-slip fault</text></g>
</svg>
</body></html>
